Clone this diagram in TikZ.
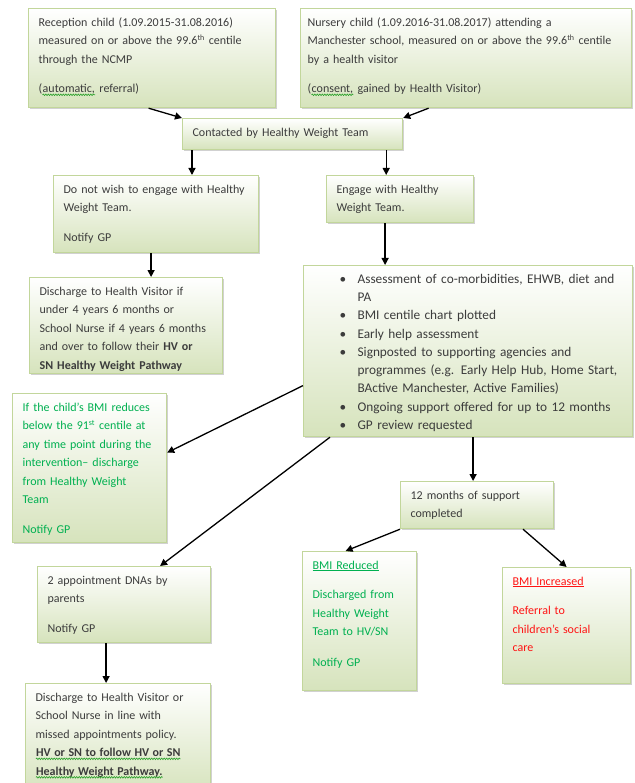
\documentclass[tikz,border=0pt]{standalone}
\usepackage{fontspec}
\setmainfont[WordSpace=1.3]{Carlito}
\usepackage{xcolor}
\usetikzlibrary{arrows.meta,shadows,decorations.pathmorphing}

\definecolor{boxfill}{RGB}{214,227,188}
\definecolor{boxline}{RGB}{194,214,155}
\definecolor{txtdark}{RGB}{60,60,60}
\definecolor{txtgreen}{RGB}{0,176,80}
\definecolor{txtred}{RGB}{255,20,20}
\definecolor{wavegreen}{RGB}{40,160,40}

% wavy spell-check underline
\newcommand\spellwave[1]{\tikz[baseline=(sw.base)]{\node[inner sep=0pt] (sw) {#1};
  \draw[wavegreen, line width=0.6pt, decorate, decoration={snake, amplitude=0.8pt, segment length=2.5pt}]
    ([yshift=-2.2pt]sw.base west) -- ([yshift=-2.2pt]sw.base east);}}

\newcommand\bul{\hspace*{26pt}\makebox[18pt][l]{\textbullet}}
\newcommand\cont{\hspace*{44pt}}

\begin{document}
\begin{tikzpicture}[x=1pt,y=-1pt,
  flowbox/.style={draw=boxline, line width=1.2pt, top color=white, bottom color=boxfill,
    drop shadow={shadow xshift=1.5pt,shadow yshift=-1.5pt,opacity=0.3,fill=black!60},
    anchor=north west, inner xsep=10pt, inner ysep=8pt, align=left, text height=9.5pt,
    font=\fontsize{12}{18.5}\selectfont, text=txtdark},
  arr/.style={-{Triangle[length=7pt,width=7pt]}, line width=1.3pt, black}]

\useasboundingbox (0,0) rectangle (634,783);

% Referral boxes
\node[flowbox, text width=227pt, text depth=73.5pt] (recept) at (28,8)
  {Reception child (1.09.2015-31.08.2016)\\
   measured on or above the 99.6\textsuperscript{th} centile\\
   through the NCMP\\[11pt]
   (\spellwave{automatic,} referral)};
\node[flowbox, inner xsep=7pt, text width=317pt, text depth=73.5pt] (nursery) at (300,8)
  {Nursery child (1.09.2016-31.08.2017) attending a\\
   Manchester school, measured on or above the 99.6\textsuperscript{th} centile\\
   by a health visitor\\[11pt]
   (\spellwave{consent,} gained by Health Visitor)};
\node[flowbox, text width=200pt, text depth=5.5pt] (contact) at (182,118)
  {Contacted by Healthy Weight Team};

% Engage or not
\node[flowbox, text width=185pt, text depth=51.5pt] (nowish) at (53,175)
  {Do not wish to engage with Healthy\\
   Weight Team.\\[11pt]
   Notify GP};
\node[flowbox, text width=173pt, text depth=70.5pt] (dischHV) at (29,277)
  {Discharge to Health Visitor if\\
   under 4 years 6 months or\\
   School Nurse if 4 years 6 months\\
   and over to follow their \textbf{HV or}\\
   \textbf{SN Healthy Weight Pathway}};
\node[flowbox, text width=127pt, text depth=21.5pt] (engage) at (326,175)
  {Engage with Healthy\\
   Weight Team.};
\node[flowbox, text width=309pt, text depth=145.5pt, font=\fontsize{13.3}{18.3}\selectfont] (assess) at (303,265)
  {\bul Assessment of co-morbidities, EHWB, diet and\\
   \cont PA\\
   \bul BMI centile chart plotted\\
   \bul Early help assessment\\
   \bul Signposted to supporting agencies and\\
   \cont programmes (e.g. Early Help Hub, Home Start,\\
   \cont BActive Manchester, Active Families)\\
   \bul Ongoing support offered for up to 12 months\\
   \bul GP review requested};

% Outcomes
\node[flowbox, text width=134pt, text depth=123.5pt, text=txtgreen] (green) at (12,393)
  {If the child's BMI reduces\\
   below the 91\textsuperscript{st} centile at\\
   any time point during the\\
   intervention-- discharge\\
   from Healthy Weight\\
   Team\\[11pt]
   Notify GP};
\node[flowbox, text width=133pt, text depth=21.5pt] (twelve) at (400,481)
  {12 months of support\\
   completed};
\node[flowbox, text width=94pt, text depth=113.5pt, text=txtgreen] (reduced) at (302,551)
  {\underline{BMI Reduced}\\[11pt]
   Discharged from\\
   Healthy Weight\\
   Team to HV/SN\\[12pt]
   Notify GP};
\node[flowbox, text width=108pt, text depth=90.5pt, text=txtred] (increased) at (502,567)
  {\underline{BMI Increased}\\[11pt]
   Referral to\\
   children's social\\
   care};
\node[flowbox, text width=153pt, text depth=50.5pt] (appt) at (37,566)
  {2 appointment DNAs by\\
   parents\\[11pt]
   Notify GP};
\node[flowbox, text width=165pt, text depth=84.5pt] (disch2) at (25,683)
  {Discharge to Health Visitor or\\
   School Nurse in line with\\
   missed appointments policy.\\
   \spellwave{\textbf{HV or SN to follow HV or SN}}\\
   \spellwave{\textbf{Healthy Weight Pathway.}}};

% Connectors
\draw[arr] ([xshift=-3.5pt]recept.south) -- (contact.north west);
\draw[arr] ([xshift=-37.5pt]nursery.south) -- (contact.north east);
\draw[arr] ([xshift=10pt]contact.south west) -- ([xshift=10pt]contact.south west |- nowish.north);
\draw[arr] ([xshift=-17pt]contact.south east) -- ([xshift=-17pt]contact.south east |- engage.north);
\draw[arr] ([xshift=-5pt]nowish.south) -- ([xshift=-5pt]nowish.south |- dischHV.north);
\draw[arr] ([xshift=-15pt]engage.south) -- ([xshift=-15pt]engage.south |- assess.north);
\draw[arr] ([yshift=-34.5pt]assess.west) -- ([yshift=15.5pt]green.east);
\draw[arr] ([xshift=27pt]assess.south west) -- ([xshift=36pt]appt.north);
\draw[arr] ([xshift=-4pt]twelve.north |- assess.south) -- ([xshift=-4pt]twelve.north);
\draw[arr] (twelve.south west) -- ([xshift=-14pt]reduced.north);
\draw[arr] ([xshift=123pt]twelve.south west) -- (increased.north);
\draw[arr] ([xshift=-18pt]appt.south) -- ([xshift=-18pt]appt.south |- disch2.north);

\end{tikzpicture}
\end{document}
